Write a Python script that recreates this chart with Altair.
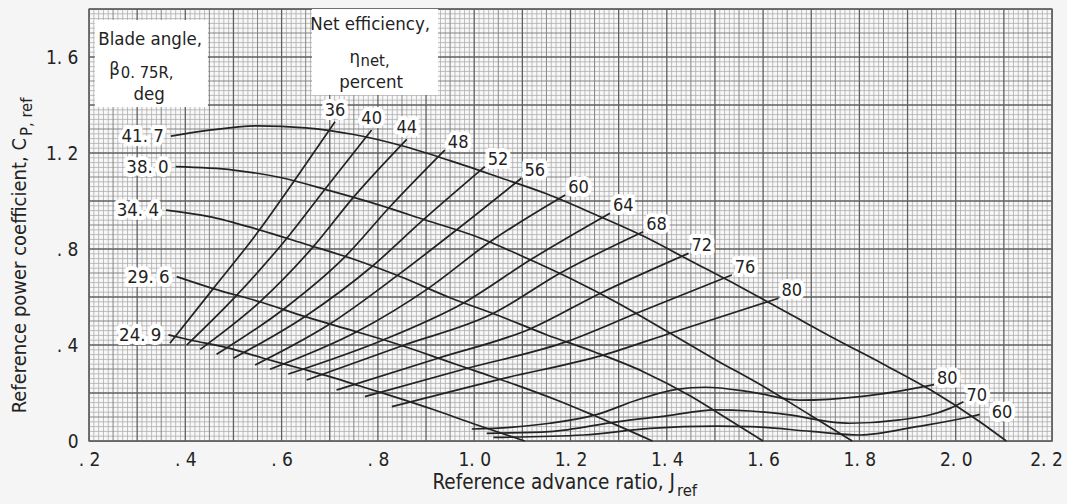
import altair as alt
import numpy as np
import pandas as pd

FONT = "DejaVu Sans Condensed, Liberation Sans Narrow, sans-serif"
INK = "#232323"

# ---------------- blade-angle curves (beta 0.75R, deg) ----------------
blade_labels = ["41. 7", "38. 0", "34. 4", "29. 6", "24. 9"]
j_417 = [0.37, 0.45, 0.55, 0.65, 0.75, 0.85, 0.95, 1.05, 1.15, 1.25, 1.35, 1.45, 1.55, 1.65, 1.75, 1.85, 1.95, 2.05, 2.105]
cp_417 = [1.27, 1.295, 1.313, 1.305, 1.277, 1.23, 1.168, 1.10, 1.03, 0.945, 0.855, 0.75, 0.645, 0.535, 0.425, 0.32, 0.21, 0.08, 0.0]
j_380 = [0.38, 0.5, 0.6, 0.7, 0.8, 0.9, 1.0, 1.1, 1.2, 1.3, 1.4, 1.5, 1.6, 1.7, 1.785]
cp_380 = [1.143, 1.129, 1.097, 1.043, 0.985, 0.92, 0.855, 0.77, 0.677, 0.573, 0.457, 0.34, 0.228, 0.105, 0.0]
j_344 = [0.36, 0.45, 0.55, 0.65, 0.75, 0.85, 0.95, 1.05, 1.15, 1.25, 1.35, 1.45, 1.5, 1.6]
cp_344 = [0.962, 0.935, 0.882, 0.82, 0.757, 0.682, 0.597, 0.523, 0.443, 0.371, 0.29, 0.186, 0.125, 0.0]
j_296 = [0.382, 0.458, 0.555, 0.649, 0.756, 0.846, 0.943, 1.005, 1.088, 1.171, 1.247, 1.303, 1.37]
cp_296 = [0.685, 0.635, 0.58, 0.518, 0.455, 0.40, 0.333, 0.29, 0.233, 0.171, 0.108, 0.06, 0.0]
j_249 = [0.365, 0.41, 0.486, 0.562, 0.638, 0.70, 0.763, 0.825, 0.915, 1.00, 1.105]
cp_249 = [0.442, 0.421, 0.389, 0.345, 0.303, 0.268, 0.229, 0.19, 0.131, 0.071, 0.0]
blade_j = [j_417, j_380, j_344, j_296, j_249]
blade_cp = [cp_417, cp_380, cp_344, cp_296, cp_249]

# ---------------- net-efficiency lines (percent) ----------------
eff_labels = ["36", "40", "44", "48", "52", "56", "60", "64", "68", "72", "76", "80"]
j_e36 = [0.368, 0.458, 0.555, 0.625, 0.711]
cp_e36 = [0.407, 0.635, 0.882, 1.08, 1.33]
j_e40 = [0.403, 0.507, 0.611, 0.69, 0.787]
cp_e40 = [0.40, 0.608, 0.845, 1.049, 1.296]
j_e44 = [0.431, 0.555, 0.666, 0.749, 0.86]
cp_e44 = [0.382, 0.58, 0.81, 1.015, 1.257]
j_e48 = [0.465, 0.604, 0.732, 0.825, 0.939]
cp_e48 = [0.361, 0.549, 0.768, 0.976, 1.2125]
j_e52 = [0.50, 0.648, 0.787, 0.894, 1.022]
cp_e52 = [0.345, 0.518, 0.726, 0.921, 1.143]
j_e56 = [0.545, 0.70, 0.842, 0.963, 1.098]
cp_e56 = [0.317, 0.4875, 0.692, 0.879, 1.095]
j_e60 = [0.576, 0.756, 0.904, 1.033, 1.189]
cp_e60 = [0.299, 0.455, 0.635, 0.83, 1.025]
j_e64 = [0.614, 0.811, 0.977, 1.116, 1.282]
cp_e64 = [0.279, 0.421, 0.574, 0.754, 0.949]
j_e68 = [0.652, 0.849, 1.04, 1.178, 1.351]
cp_e68 = [0.254, 0.396, 0.532, 0.699, 0.872]
j_e72 = [0.714, 0.925, 1.116, 1.261, 1.445]
cp_e72 = [0.2125, 0.345, 0.467, 0.615, 0.782]
j_e76 = [0.773, 0.98, 1.192, 1.337, 1.535]
cp_e76 = [0.185, 0.30, 0.414, 0.532, 0.692]
j_e80 = [0.829, 1.055, 1.268, 1.407, 1.632]
cp_e80 = [0.143, 0.258, 0.358, 0.449, 0.595]
eff_j = [j_e36, j_e40, j_e44, j_e48, j_e52, j_e56, j_e60, j_e64, j_e68, j_e72, j_e76, j_e80]
eff_cp = [cp_e36, cp_e40, cp_e44, cp_e48, cp_e52, cp_e56, cp_e60, cp_e64, cp_e68, cp_e72, cp_e76, cp_e80]

# ---------------- low-power curves (lower right) ----------------
low_labels = ["80", "70", "60"]
j_l80 = [0.995, 1.08, 1.157, 1.254, 1.337, 1.42, 1.48, 1.573, 1.677, 1.801, 1.88, 1.955]
cp_l80 = [0.05, 0.058, 0.074, 0.11, 0.17, 0.215, 0.224, 0.205, 0.17, 0.185, 0.207, 0.235]
j_l70 = [1.026, 1.157, 1.296, 1.40, 1.50, 1.573, 1.635, 1.78, 1.884, 1.988, 2.016]
cp_l70 = [0.032, 0.039, 0.08, 0.105, 0.13, 0.125, 0.114, 0.074, 0.088, 0.136, 0.164]
j_l60 = [1.04, 1.227, 1.365, 1.503, 1.573, 1.70, 1.801, 1.919, 2.03, 2.05]
cp_l60 = [0.015, 0.025, 0.053, 0.062, 0.06, 0.04, 0.025, 0.06, 0.101, 0.111]
low_j = [j_l80, j_l70, j_l60]
low_cp = [cp_l80, cp_l70, cp_l60]

# axis ticks
x_ticks = [0.2, 0.4, 0.6, 0.8, 1.0, 1.2, 1.4, 1.6, 1.8, 2.0, 2.2]
y_ticks = [0.0, 0.4, 0.8, 1.2, 1.6]


def to_df(names, js, cps):
    rows = []
    for name, jj, cc in zip(names, js, cps):
        for i, (a, b) in enumerate(zip(jj, cc)):
            rows.append({"name": name, "i": i, "J": a, "CP": b})
    return pd.DataFrame(rows)


blade_df = to_df(blade_labels, blade_j, blade_cp)
eff_df = to_df(eff_labels, eff_j, eff_cp)
low_df = to_df(low_labels, low_j, low_cp)

blade_first = blade_df[blade_df["i"] == 0]
eff_last = eff_df.groupby("name", sort=False).tail(1).copy()
eff_last["num"] = eff_last["name"].astype(int)
low_last = low_df.groupby("name", sort=False).tail(1)

# graph-paper grid
gx = np.round(np.arange(0.2, 2.2 + 1e-9, 0.01), 2)
gy = np.round(np.arange(0.0, 1.8 + 1e-9, 0.02), 2)


def lev_x(v):
    k = int(round(v * 100))
    return "heavy" if k % 10 == 0 else ("mid" if k % 5 == 0 else "fine")


def lev_y(v):
    k = int(round(v * 100))
    return "heavy" if k % 20 == 0 else ("mid" if k % 10 == 0 else "fine")


gx_df = pd.DataFrame({"J": gx, "level": [lev_x(v) for v in gx]})
gy_df = pd.DataFrame({"CP": gy, "level": [lev_y(v) for v in gy]})

xs = alt.Scale(domain=[0.2, 2.2], nice=False, zero=False)
ys = alt.Scale(domain=[0.0, 1.8], nice=False, zero=False)

x_axis = alt.Axis(
    values=x_ticks, title=None, grid=False, ticks=False, domain=False,
    labelExpr="replace(replace(format(datum.value, '.1f'), '0.', '.'), '.', '. ')",
    labelFont=FONT, labelFontSize=19, labelColor=INK, labelPadding=9, labelFlush=False,
    labelOffset={"condition": {"test": "datum.value > 2.1", "value": -6}, "value": 0},
)
y_axis = alt.Axis(
    values=y_ticks, title=None, grid=False, ticks=False, domain=False,
    labelExpr="datum.value == 0 ? '0' : replace(replace(format(datum.value, '.1f'), '0.', '.'), '.', '. ')",
    labelFont=FONT, labelFontSize=19, labelColor=INK, labelPadding=11, labelFlush=False,
)

X = alt.X("J:Q", scale=xs, axis=x_axis)
Y = alt.Y("CP:Q", scale=ys, axis=y_axis)

lvl_color = {"fine": "#a9a9a9", "mid": "#858585", "heavy": "#5f5f5f"}
lvl_width = {"fine": 0.75, "mid": 1.0, "heavy": 1.3}

layers = []
for lv in ["fine", "mid", "heavy"]:
    layers.append(
        alt.Chart(gx_df[gx_df["level"] == lv]).mark_rule(color=lvl_color[lv], strokeWidth=lvl_width[lv])
        .encode(x=X)
    )
    layers.append(
        alt.Chart(gy_df[gy_df["level"] == lv]).mark_rule(color=lvl_color[lv], strokeWidth=lvl_width[lv])
        .encode(y=Y)
    )

# annotation boxes (white paper patches behind the legend texts)
box_x1 = [0.212, 0.663]
box_x2 = [0.447, 0.925]
box_y1 = [1.392, 1.442]
box_y2 = [1.754, 1.8]
box_df = pd.DataFrame({"J": box_x1, "x2": box_x2, "CP": box_y1, "y2": box_y2})
layers.append(
    alt.Chart(box_df).mark_rect(color="white").encode(x=X, x2="x2:Q", y=Y, y2="y2:Q")
)

line_kw = dict(color=INK, strokeWidth=1.7, interpolate="monotone")
for d in [blade_df, eff_df, low_df]:
    layers.append(
        alt.Chart(d).mark_line(**line_kw).encode(x=X, y=Y, detail="name:N", order="i:Q")
    )


def label_layer(df, size, **kw):
    base = alt.Chart(df).encode(x=X, y=Y, text="name:N")
    return [
        base.mark_text(font=FONT, fontSize=size, color="white", stroke="white",
                       strokeWidth=8, strokeJoin="round", **kw),
        base.mark_text(font=FONT, fontSize=size, color=INK, **kw),
    ]


layers += label_layer(blade_first, 18.5, align="right", baseline="middle", dx=-7)
layers += label_layer(eff_last[eff_last["num"] <= 44], 18, align="center", baseline="middle", dy=-11)
layers += label_layer(eff_last[eff_last["num"] > 44], 18, align="left", baseline="middle", dx=3, dy=-7)
layers += label_layer(low_last[low_last["name"] != "60"], 18, align="left", baseline="middle", dx=3, dy=-6)
layers += label_layer(low_last[low_last["name"] == "60"], 18, align="left", baseline="middle", dx=12, dy=-1)


def text_at(j, cp, txt, size, align="center"):
    d = pd.DataFrame({"J": [j], "CP": [cp], "t": [txt]})
    return alt.Chart(d).mark_text(font=FONT, fontSize=size, color=INK, align=align,
                                  baseline="middle").encode(x=X, y=Y, text="t:N")


# legend texts
layers.append(text_at(0.327, 1.676, "Blade angle,", 18.5))
layers.append(text_at(0.253, 1.548, "\u03b2", 18.5))
layers.append(text_at(0.266, 1.535, "0. 75R,", 16.5, align="left"))
layers.append(text_at(0.325, 1.447, "deg", 18.5))
layers.append(text_at(0.784, 1.737, "Net efficiency,", 18.5))
layers.append(text_at(0.752, 1.600, "\u03b7", 18.5))
layers.append(text_at(0.764, 1.582, "net,", 16.5, align="left"))
layers.append(text_at(0.786, 1.497, "percent", 18.5))


def px_text(x, y, txt, size, align, angle=0):
    d = pd.DataFrame({"t": [txt]})
    m = dict(font=FONT, fontSize=size, color=INK, align=align, baseline="middle")
    if angle:
        m["angle"] = angle
    return alt.Chart(d).mark_text(**m).encode(x=alt.value(x), y=alt.value(y), text="t:N")


# axis titles (with subscripts)
layers.append(px_text(586, 474, "Reference advance ratio, J", 20.5, "right"))
layers.append(px_text(588, 482, "ref", 16.5, "left"))
layers.append(px_text(-69, 129, "Reference power coefficient, C", 20, "right", angle=270))
layers.append(px_text(-62, 127, "P, ref", 16.5, "left", angle=270))

chart = (
    alt.layer(*layers)
    .properties(
        width=963, height=432,
        autosize=alt.AutoSizeParams(type="none"),
        padding={"left": 89, "top": 9, "right": 15, "bottom": 63},
        background="#f5f5f5",
    )
    .configure_view(stroke="#555555", strokeWidth=1.4, fill="#f8f8f8")
)

chart.save("out.html", embed_options={"renderer": "svg", "actions": False})
